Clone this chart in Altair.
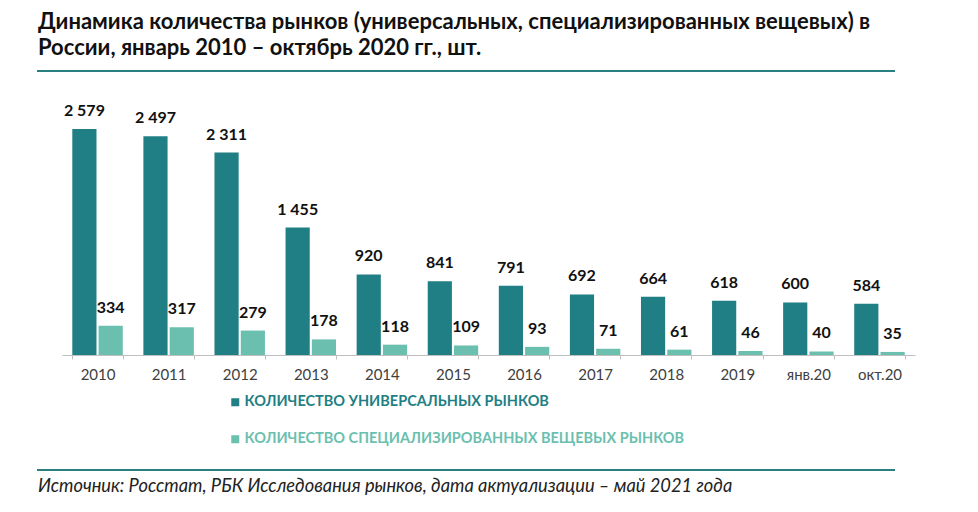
import altair as alt
import pandas as pd

categories = ["2010", "2011", "2012", "2013", "2014", "2015", "2016", "2017", "2018", "2019", "янв.20", "окт.20"]
universal = [2579, 2497, 2311, 1455, 920, 841, 791, 692, 664, 618, 600, 584]
specialized = [334, 317, 279, 178, 118, 109, 93, 71, 61, 46, 40, 35]
series_names = ["КОЛИЧЕСТВО УНИВЕРСАЛЬНЫХ РЫНКОВ", "КОЛИЧЕСТВО СПЕЦИАЛИЗИРОВАННЫХ ВЕЩЕВЫХ РЫНКОВ"]
colors = ["#1F7F84", "#6BBFAF"]
title_text = "Динамика количества рынков (универсальных, специализированных вещевых) в\nРоссии, январь 2010 – октябрь 2020 гг., шт."
source_text = "Источник: Росстат, РБК Исследования рынков, дата актуализации – май 2021 года"

rows = []
for i, c in enumerate(categories):
    rows.append({"cat": c, "series": series_names[0], "value": universal[i]})
    rows.append({"cat": c, "series": series_names[1], "value": specialized[i]})
df = pd.DataFrame(rows)

FONT = "Lato, Roboto, sans-serif"
W, H = 853, 254

x_enc = alt.X("cat:N", sort=categories, title=None,
              scale=alt.Scale(paddingInner=0.29, paddingOuter=0.145),
              axis=alt.Axis(labelAngle=0, labelFontSize=15, labelFont=FONT, labelColor="#404040",
                            domainColor="#BFBFBF", tickColor="#BFBFBF", tickSize=4, labelPadding=8,
                            tickBand="extent", domainWidth=1))
xo_enc = alt.XOffset("series:N", sort=series_names,
                     scale=alt.Scale(paddingInner=0.08, paddingOuter=0))
y_enc = alt.Y("value:Q", axis=None, scale=alt.Scale(domain=[0, 2900]))

base = alt.Chart(df)

bars = base.mark_bar().encode(
    x=x_enc, xOffset=xo_enc, y=y_enc,
    color=alt.Color("series:N", sort=series_names,
                    scale=alt.Scale(domain=series_names, range=colors),
                    legend=alt.Legend(orient="none", legendX=166, legendY=294, title=None,
                                      direction="vertical", symbolType="square", symbolSize=64,
                                      symbolStrokeWidth=0, labelFontSize=14.5, labelFont=FONT,
                                      labelFontWeight="bold", labelOffset=2, rowPadding=22,
                                      padding=0, labelLimit=800,
                                      labelColor={"expr": "datum.value == '" + series_names[0] + "' ? '" + colors[0] + "' : '" + colors[1] + "'"})),
)

labels = base.transform_calculate(
    lbl="replace(format(datum.value, ','), ',', ' ')"
).mark_text(baseline="alphabetic", dy=-13, fontSize=16, fontWeight="bold", font=FONT, color="#111111").encode(
    x=x_enc, xOffset=xo_enc, y=y_enc, text="lbl:N"
)

deco = pd.DataFrame({"t": [title_text], "s": [source_text]})
dchart = alt.Chart(deco)

title = dchart.mark_text(align="left", baseline="alphabetic", fontSize=22, fontWeight="bold",
                         font=FONT, color="#111111", lineBreak="\n", lineHeight=26).encode(
    x=alt.value(-24), y=alt.value(-72), text="t:N")

source = dchart.mark_text(align="left", baseline="alphabetic", fontSize=18.3, fontStyle="italic",
                          font=FONT, color="#222222").encode(
    x=alt.value(-24), y=alt.value(391), text="s:N")

rule_top = dchart.mark_rule(color="#2A7F80", strokeWidth=2).encode(
    x=alt.value(-25), x2=alt.value(833), y=alt.value(-30))
rule_bot = dchart.mark_rule(color="#2A7F80", strokeWidth=2).encode(
    x=alt.value(-25), x2=alt.value(833), y=alt.value(369))

chart = alt.layer(bars, labels, title, source, rule_top, rule_bot).properties(
    width=W, height=H,
    autosize=alt.AutoSizeParams(type="none"),
    padding={"left": 54, "top": 93, "right": 50, "bottom": 140},
).configure_view(stroke=None)

chart.save("out.html", embed_options={"renderer": "svg", "actions": False})
